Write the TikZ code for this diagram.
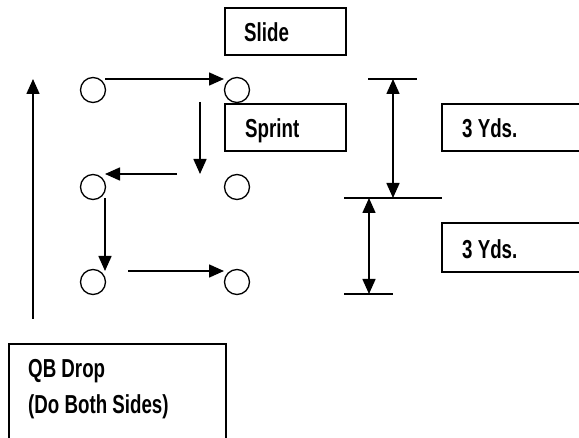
\documentclass[tikz,border=0pt]{standalone}
\usepackage{fontspec}
\setmainfont[FakeStretch=0.72]{Liberation Sans}
\usetikzlibrary{arrows.meta}
\begin{document}
\begin{tikzpicture}[x=1pt,y=-1pt,
  box/.style={draw,line width=1.6pt,anchor=north west,inner sep=0pt},
  lbl/.style={anchor=base west,inner sep=0pt,font=\fontsize{26}{31}\selectfont\bfseries},
  spot/.style={draw,circle,line width=1.3pt,minimum size=25pt,inner sep=0pt},
  arr/.style={line width=1.6pt,-{Triangle[length=15pt,width=13pt]}},
  darr/.style={line width=1.6pt,{Triangle[length=15pt,width=13pt]}-{Triangle[length=15pt,width=13pt]}},
  tick/.style={line width=1.6pt}]
\useasboundingbox (0,0) rectangle (579,438);
\clip (0,0) rectangle (579,438);
% boxes
\node[box,minimum width=121pt,minimum height=47pt] (slide) at (224,7) {};
\node[box,minimum width=121pt,minimum height=47pt] (sprint) at (224,103) {};
\node[box,minimum width=160pt,minimum height=47pt] (yds1) at (441,103) {};
\node[box,minimum width=160pt,minimum height=49pt] (yds2) at (441,222) {};
\node[box,minimum width=217pt,minimum height=100pt] (qb) at (8,343) {};
% labels
\node[lbl] (tslide) at (244,42) {Slide};
\node[lbl] (tsprint) at (245,138) {Sprint};
\node[lbl] (tyds1) at (462,138) {3 Yds.};
\node[lbl] (tyds2) at (462,259) {3 Yds.};
\node[lbl] (tqb1) at (28,378) {QB Drop};
\node[lbl] (tqb2) at (28,414) {(Do Both Sides)};
% spots
\node[spot] (a1) at (93,90) {};
\node[spot] (b1) at (237,90) {};
\node[spot] (a2) at (93,187) {};
\node[spot] (b2) at (237,187) {};
\node[spot] (a3) at (93,282) {};
\node[spot] (b3) at (237,282) {};
% route coordinates
\coordinate (r1s) at (105,79);
\coordinate (r1e) at (224,79);
\coordinate (r2s) at (200,102);
\coordinate (r2e) at (200,174);
\coordinate (r3s) at (177,174);
\coordinate (r3e) at (105,174);
\coordinate (r4s) at (105,198);
\coordinate (r4e) at (105,271);
\coordinate (r5s) at (128,271);
\coordinate (r5e) at (224,271);
\coordinate (qs) at (33,319);
\coordinate (qe) at (33,79);
\draw[arr] (r1s) -- (r1e);
\draw[arr] (r2s) -- (r2e);
\draw[arr] (r3s) -- (r3e);
\draw[arr] (r4s) -- (r4e);
\draw[arr] (r5s) -- (r5e);
\draw[arr] (qs) -- (qe);
% dimensions
\coordinate (t1l) at (368,79);
\coordinate (t1r) at (417,79);
\coordinate (t2l) at (344,198);
\coordinate (t2r) at (442,198);
\coordinate (t3l) at (344,294);
\coordinate (t3r) at (393,294);
\coordinate (d1s) at (393,79);
\coordinate (d1e) at (393,198);
\coordinate (d2s) at (369,198);
\coordinate (d2e) at (369,294);
\draw[tick] (t1l) -- (t1r);
\draw[tick] (t2l) -- (t2r);
\draw[tick] (t3l) -- (t3r);
\draw[darr] (d1s) -- (d1e);
\draw[darr] (d2s) -- (d2e);
\end{tikzpicture}
\end{document}
